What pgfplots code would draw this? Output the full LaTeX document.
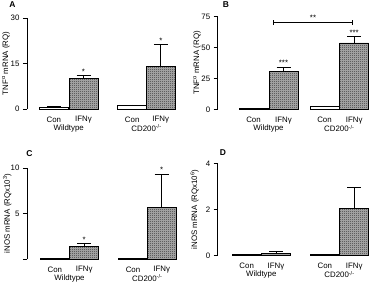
\documentclass[border=0pt]{standalone}
\usepackage{fontspec}
\setmainfont{Liberation Sans}
\usepackage{pgfplots}
\pgfplotsset{compat=1.18}
\usetikzlibrary{patterns}

% fine checkerboard used for the IFN-gamma bars
\pgfdeclarepatternformonly{checker}{\pgfqpoint{0pt}{0pt}}{\pgfqpoint{2bp}{2bp}}{\pgfqpoint{2bp}{2bp}}{%
  \pgfpathrectangle{\pgfqpoint{0pt}{0pt}}{\pgfqpoint{1bp}{1bp}}%
  \pgfpathrectangle{\pgfqpoint{1bp}{1bp}}{\pgfqpoint{1bp}{1bp}}%
  \pgfusepath{fill}}

\newcommand{\lab}{\fontsize{7.9}{9}\selectfont}

\tikzset{
  star/.style={anchor=base, font=\lab, inner sep=0pt, yshift=0.5bp},
  grp/.style={font=\lab, yshift=-19.3bp},
}

\pgfplotsset{
  panel/.style={
    scale only axis, anchor=south west,
    axis lines*=left,
    x axis line style={draw=none},
    axis line style={line width=0.6pt},
    xtick style={draw=none},
    ytick style={black, line width=0.6pt},
    tick align=outside, major tick length=4bp,
    ymin=0,
    ybar, bar width=29, bar shift=0pt,
    tick label style={font=\lab},
    label style={font=\lab},
    /pgf/number format/assume math mode=true,
    xticklabels={Con,IFNγ,Con,IFNγ},
    clip=false,
    error bars/y dir=plus, error bars/y explicit,
    error bars/error mark options={rotate=90, mark size=7bp, line width=0.7pt, black},
    error bars/error bar style={line width=0.7pt, black},
  },
  con/.style={draw=black, fill=white, line width=0.7pt},
  ifn/.style={draw=black, fill=gray!62, line width=0.7pt,
    postaction={pattern=checker, pattern color=gray!40!black}},
}

\begin{document}
\begin{tikzpicture}
\path[use as bounding box] (0,0) rectangle (374bp,282bp);

% ---------------- A: TNF-alpha ----------------
\begin{axis}[panel, at={(27bp,173bp)}, xmin=27, xmax=185,
  width=158bp, height=91bp, ymax=30, ytick={0,15,30},
  xtick={53.8,83.5,132.2,160.8},
  ylabel={TNF\textsuperscript{α} mRNA (RQ)},
  ylabel style={at={(axis description cs:-0.133,0.5)}, anchor=center}]
\addplot[con] coordinates {(53.8,0.7) +- (0,0.1) (132.2,1.2) +- (0,0.15)};
\addplot[ifn] coordinates {(83.5,10.0) +- (0,1.25) (160.8,14.0) +- (0,7.3)};
\node[star] at (axis cs:83.5,11.25) {*};
\node[star] at (axis cs:160.8,21.3) {*};
\node[grp] at (axis cs:68.7,0) {Wildtype};
\node[grp] at (axis cs:146.5,0) {CD200\textsuperscript{-/-}};
\end{axis}

% ---------------- B: TNF-alpha ----------------
\begin{axis}[panel, at={(217.7bp,172.7bp)}, xmin=217.7, xmax=372,
  width=154.3bp, height=92.6bp, ymax=75, ytick={0,25,50,75},
  xtick={253.5,283.5,324.5,354.2},
  ylabel={TNF\textsuperscript{α} mRNA (RQ)},
  ylabel style={at={(axis description cs:-0.134,0.5)}, anchor=center}]
\addplot[con] coordinates {(253.5,0.6) +- (0,0.1) (324.5,2.2) +- (0,0.5)};
\addplot[ifn] coordinates {(283.5,30.9) +- (0,3.2) (354.2,53.8) +- (0,5.3)};
\node[star] at (axis cs:283.5,35.2) {***};
\node[star] at (axis cs:354.2,59.6) {***};
\draw[line width=0.7pt] (axis cs:273.3,70.5) -- (axis cs:352.7,70.5);
\draw[line width=0.7pt] (axis cs:273.3,68.5) -- (axis cs:273.3,72.5);
\draw[line width=0.7pt] (axis cs:352.7,68.5) -- (axis cs:352.7,72.5);
\node[star] at (axis cs:313,71.2) {**};
\node[grp] at (axis cs:268.5,0) {Wildtype};
\node[grp] at (axis cs:339.3,0) {CD200\textsuperscript{-/-}};
\end{axis}

% ---------------- C: iNOS ----------------
\begin{axis}[panel, at={(27bp,23bp)}, xmin=27, xmax=185,
  width=158bp, height=91bp, ymax=10, ytick={0,5,10},
  yticklabels={,5,10},
  xtick={54.8,84.2,133,161.7},
  ylabel={iNOS mRNA (RQx10\textsuperscript{3})},
  ylabel style={at={(axis description cs:-0.125,0.5)}, anchor=center}]
\addplot[con] coordinates {(54.8,0.02) +- (0,0) (133,0.02) +- (0,0)};
\addplot[ifn] coordinates {(84.2,1.39) +- (0,0.31) (161.7,5.7) +- (0,3.57)};
\node[star] at (axis cs:84.2,1.75) {*};
\node[star] at (axis cs:161.7,9.45) {*};
\node[grp] at (axis cs:69.5,0) {Wildtype};
\node[grp] at (axis cs:147.3,0) {CD200\textsuperscript{-/-}};
\end{axis}

% ---------------- D: iNOS ----------------
\begin{axis}[panel, at={(217.7bp,26.7bp)}, xmin=217.7, xmax=372,
  width=154.3bp, height=91.6bp, ymax=4, ytick={0,2,4},
  xtick={246.7,276,324.8,354.2},
  ylabel={iNOS mRNA (RQx10\textsuperscript{6})},
  ylabel style={at={(axis description cs:-0.15,0.5)}, anchor=center}]
\addplot[con] coordinates {(246.7,0.02) +- (0,0) (324.8,0.02) +- (0,0)};
\addplot[ifn] coordinates {(276,0.09) +- (0,0.08) (354.2,2.04) +- (0,0.94)};
\node[grp] at (axis cs:261.3,0) {Wildtype};
\node[grp] at (axis cs:339.5,0) {CD200\textsuperscript{-/-}};
\end{axis}

% panel letters
\node[font=\fontsize{8.5}{10}\selectfont\bfseries] at (12.5bp,277.5bp) {A};
\node[font=\fontsize{8.5}{10}\selectfont\bfseries] at (226bp,277bp) {B};
\node[font=\fontsize{8.5}{10}\selectfont\bfseries] at (29.5bp,128.5bp) {C};
\node[font=\fontsize{8.5}{10}\selectfont\bfseries] at (223bp,129bp) {D};
\end{tikzpicture}
\end{document}
